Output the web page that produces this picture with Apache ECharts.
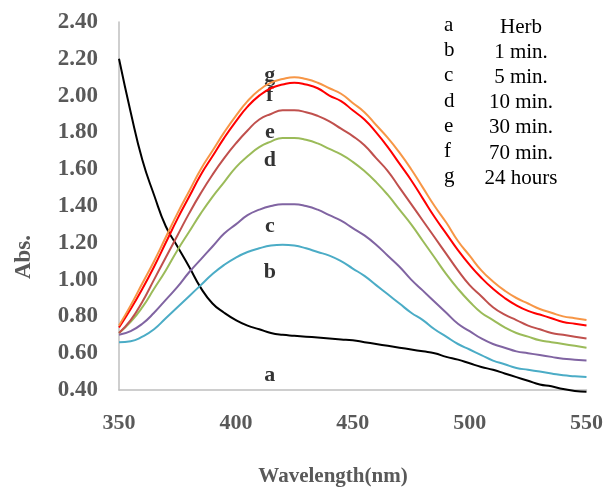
<!DOCTYPE html>
<html>
<head>
<meta charset="utf-8">
<script src="https://cdn.jsdelivr.net/npm/echarts@6/dist/echarts.min.js"></script>
<style>
  html, body { margin: 0; padding: 0; background: #fff; }
  #chart { width: 606px; height: 487px; }
</style>
</head>
<body>
<div id="chart"></div>
<script>
// Wavelength grid (nm), 5 nm steps
const wavelengths = [350, 355, 360, 365, 370, 375, 380, 385, 390, 395, 400,
                     405, 410, 415, 420, 425, 430, 435, 440, 445, 450,
                     455, 460, 465, 470, 475, 480, 485, 490, 495, 500,
                     505, 510, 515, 520, 525, 530, 535, 540, 545, 550];

// Absorbance spectra
const absHerb = [2.20, 1.91, 1.65, 1.46, 1.29, 1.18, 1.07, 0.955, 0.87, 0.82, 0.78,
                 0.75, 0.73, 0.71, 0.70, 0.695, 0.69, 0.685, 0.68, 0.675, 0.67,
                 0.66, 0.65, 0.64, 0.63, 0.62, 0.61, 0.60, 0.58, 0.565, 0.545,
                 0.525, 0.51, 0.49, 0.47, 0.45, 0.43, 0.42, 0.405, 0.395, 0.39];
const abs1min = [0.66, 0.665, 0.69, 0.73, 0.79, 0.85, 0.91, 0.97, 1.03, 1.08, 1.12,
                 1.15, 1.17, 1.185, 1.19, 1.185, 1.17, 1.15, 1.13, 1.10, 1.06,
                 1.02, 0.97, 0.92, 0.87, 0.82, 0.78, 0.73, 0.69, 0.65, 0.62,
                 0.59, 0.56, 0.54, 0.52, 0.51, 0.50, 0.49, 0.48, 0.475, 0.47];
const abs5min = [0.70, 0.72, 0.76, 0.82, 0.89, 0.96, 1.04, 1.11, 1.18, 1.25, 1.30,
                 1.35, 1.38, 1.40, 1.41, 1.41, 1.40, 1.38, 1.35, 1.32, 1.28,
                 1.24, 1.19, 1.13, 1.07, 1.00, 0.94, 0.88, 0.82, 0.76, 0.72,
                 0.68, 0.65, 0.63, 0.61, 0.60, 0.59, 0.58, 0.57, 0.565, 0.56];
const abs10min = [0.71, 0.77, 0.85, 0.95, 1.05, 1.16, 1.26, 1.36, 1.45, 1.53, 1.61,
                  1.67, 1.72, 1.75, 1.77, 1.77, 1.76, 1.74, 1.71, 1.68, 1.64,
                  1.59, 1.53, 1.46, 1.38, 1.30, 1.21, 1.12, 1.03, 0.95, 0.88,
                  0.82, 0.78, 0.74, 0.71, 0.69, 0.67, 0.66, 0.65, 0.64, 0.63];
const abs30min = [0.71, 0.78, 0.88, 1.00, 1.12, 1.24, 1.36, 1.47, 1.57, 1.66, 1.74,
                  1.81, 1.87, 1.90, 1.92, 1.92, 1.91, 1.89, 1.86, 1.82, 1.78,
                  1.73, 1.66, 1.59, 1.50, 1.41, 1.32, 1.23, 1.14, 1.05, 0.97,
                  0.91, 0.85, 0.81, 0.78, 0.75, 0.73, 0.71, 0.70, 0.69, 0.68];
const abs70min = [0.74, 0.84, 0.95, 1.07, 1.20, 1.33, 1.45, 1.57, 1.67, 1.77, 1.86,
                  1.94, 2.00, 2.04, 2.06, 2.07, 2.06, 2.04, 2.00, 1.97, 1.92,
                  1.87, 1.80, 1.72, 1.63, 1.54, 1.44, 1.34, 1.25, 1.16, 1.08,
                  1.01, 0.95, 0.90, 0.86, 0.83, 0.81, 0.79, 0.77, 0.76, 0.75];
const abs24h = [0.75, 0.86, 0.98, 1.10, 1.23, 1.36, 1.48, 1.60, 1.70, 1.80, 1.89,
                1.97, 2.03, 2.07, 2.09, 2.10, 2.09, 2.07, 2.04, 2.01, 1.96,
                1.91, 1.84, 1.77, 1.69, 1.60, 1.50, 1.40, 1.31, 1.21, 1.13,
                1.05, 0.99, 0.94, 0.90, 0.87, 0.84, 0.82, 0.80, 0.79, 0.78];

// Key entries
const keyLetters = ['a', 'b', 'c', 'd', 'e', 'f', 'g'];
const keyNames = ['Herb', '1 min.', '5 min.', '10 min.', '30 min.', '70 min.', '24 hours'];

// Curve tags placed in data space (wavelength, absorbance)
const tagPoints = [
  [414.5, 0.48, 'a'],
  [414.5, 1.04, 'b'],
  [414.5, 1.29, 'c'],
  [414.5, 1.65, 'd'],
  [414.5, 1.80, 'e'],
  [414.5, 2.00, 'f'],
  [414.5, 2.11, 'g']
];

const yTicks = { min: 0.4, max: 2.4, step: 0.2 };
const xTicks = { min: 350, max: 550, step: 50 };

const spectra = [
  { name: 'Herb', values: absHerb, color: '#000000' },
  { name: '1 min.', values: abs1min, color: '#4BACC6' },
  { name: '5 min.', values: abs5min, color: '#8064A2' },
  { name: '10 min.', values: abs10min, color: '#9BBB59' },
  { name: '30 min.', values: abs30min, color: '#C0504D' },
  { name: '70 min.', values: abs70min, color: '#FF0000' },
  { name: '24 hours', values: abs24h, color: '#F79646' }
];

const serif = '"Liberation Serif", "Times New Roman", serif';
const chart = echarts.init(document.getElementById('chart'));

const lineSeries = spectra.map(s => ({
  name: s.name,
  type: 'line',
  smooth: 0.5,
  showSymbol: false,
  clip: false,
  lineStyle: { color: s.color, width: 2 },
  data: wavelengths.map((w, i) => [w, s.values[i]]),
  z: 2
}));

const tagSeries = {
  type: 'scatter',
  symbolSize: 0,
  silent: true,
  z: 1,
  data: tagPoints.map(p => ({ value: [p[0], p[1]], tag: p[2] })),
  label: {
    show: true,
    position: 'inside',
    formatter: prm => prm.data.tag,
    fontFamily: serif,
    fontWeight: 'bold',
    fontSize: 22,
    color: '#000'
  }
};

const keyGraphics = [];
keyLetters.forEach((l, i) => {
  const y = 27 + i * 25.2;
  keyGraphics.push({
    type: 'text', left: 444, top: y - 12,
    style: { text: l, font: '21px ' + serif, fill: '#000' }
  });
  keyGraphics.push({
    type: 'text', x: 521, y: y,
    style: { text: keyNames[i], font: '21px ' + serif, fill: '#000',
             textAlign: 'center', textVerticalAlign: 'middle' }
  });
});

chart.setOption({
  animation: false,
  backgroundColor: '#fff',
  grid: { left: 119, right: 19, top: 22, bottom: 97 },
  xAxis: {
    type: 'value',
    min: xTicks.min, max: xTicks.max, interval: xTicks.step,
    axisLine: { show: true, lineStyle: { color: '#BFBFBF', width: 1.5 } },
    axisTick: { show: false },
    splitLine: { show: false },
    axisLabel: { margin: 22, fontFamily: serif, fontWeight: 'bold', fontSize: 22, color: '#595959' }
  },
  yAxis: {
    type: 'value',
    min: yTicks.min, max: yTicks.max, interval: yTicks.step,
    axisLine: { show: true, lineStyle: { color: '#BFBFBF', width: 1.5 } },
    axisTick: { show: false },
    splitLine: { show: false },
    axisLabel: {
      margin: 21, fontFamily: serif, fontWeight: 'bold', fontSize: 23, color: '#595959',
      formatter: v => v.toFixed(2)
    }
  },
  series: lineSeries.concat([tagSeries]),
  graphic: keyGraphics.concat([
    {
      type: 'text', x: 333, y: 477,
      style: { text: 'Wavelength(nm)', font: 'bold 21px ' + serif, fill: '#595959',
               textAlign: 'center', textVerticalAlign: 'middle' }
    },
    {
      type: 'text', x: 24, y: 257, rotation: Math.PI / 2,
      style: { text: 'Abs.', font: 'bold 23px ' + serif, fill: '#595959',
               textAlign: 'center', textVerticalAlign: 'middle' }
    }
  ])
});
</script>
</body>
</html>
